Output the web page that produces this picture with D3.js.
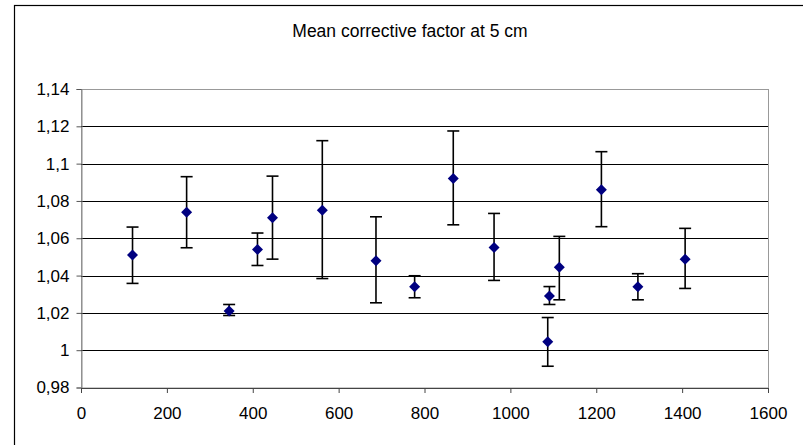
<!DOCTYPE html>
<html>
<head>
<meta charset="utf-8">
<script src="https://cdn.jsdelivr.net/npm/d3@7"></script>
<style>
  body { margin: 0; background: #fff; }
  svg { display: block; font-family: 'Liberation Sans', Arial, sans-serif; }
</style>
</head>
<body>
<div id="chart"></div>
<script>
const title = 'Mean corrective factor at 5 cm'
const xTicks = [0, 200, 400, 600, 800, 1000, 1200, 1400, 1600]
const yTicks = [0.98, 1, 1.02, 1.04, 1.06, 1.08, 1.1, 1.12, 1.14]

const xValues = [120, 246, 345, 411, 446, 562, 687, 777, 867, 962, 1091, 1087, 1114, 1212, 1297, 1407]
const yValues = [1.051, 1.074, 1.021, 1.054, 1.071, 1.075, 1.048, 1.034, 1.092, 1.055, 1.029, 1.0045, 1.0445, 1.086, 1.034, 1.0488]
const yHigh = [1.066, 1.093, 1.0245, 1.0628, 1.0933, 1.1123, 1.0715, 1.0399, 1.1175, 1.0733, 1.0341, 1.0175, 1.061, 1.1064, 1.041, 1.0653]
const yLow = [1.0358, 1.0549, 1.0186, 1.0454, 1.0488, 1.0384, 1.0254, 1.0281, 1.0672, 1.0374, 1.0245, 0.9914, 1.027, 1.0662, 1.027, 1.0331]

const width = 803
const height = 445
const margin = { top: 89, right: 35, bottom: 57.5, left: 81 }
const plotW = width - margin.left - margin.right
const plotH = height - margin.top - margin.bottom
const fontSize = 17

const data = xValues.map((x, i) => ({ x, y: yValues[i], hi: yHigh[i], lo: yLow[i] }))

const x = d3.scaleLinear().domain([0, 1600]).range([0, plotW])
const y = d3.scaleLinear().domain([0.98, 1.14]).range([plotH, 0])
const fmt = d => String(+d.toFixed(2)).replace('.', ',')

const svg = d3.select('#chart').append('svg')
  .attr('width', width)
  .attr('height', height)

// outer chart frame (only top and left edges fall inside the picture)
svg.append('rect')
  .attr('x', 14.5).attr('y', 5.5)
  .attr('width', width).attr('height', height)
  .attr('fill', 'none').attr('stroke', '#000').attr('stroke-width', 1.2)

svg.append('text')
  .attr('x', 410).attr('y', 37)
  .attr('text-anchor', 'middle')
  .attr('font-size', 17.5)
  .text(title)

const g = svg.append('g')
  .attr('transform', 'translate(' + margin.left + ',' + margin.top + ')')

// plot area border
g.append('rect')
  .attr('x', 0.5).attr('y', 0.5)
  .attr('width', plotW).attr('height', plotH)
  .attr('fill', 'none').attr('stroke', '#999')

// gridlines
g.append('g').attr('class', 'grid')
  .selectAll('line')
  .data(yTicks.filter(d => d > 0.985 && d < 1.135))
  .enter().append('line')
  .attr('x1', 0).attr('x2', plotW)
  .attr('y1', d => Math.round(y(d)) + 0.5)
  .attr('y2', d => Math.round(y(d)) + 0.5)
  .attr('stroke', '#000')

const axisY = d3.axisLeft(y).tickValues(yTicks).tickSize(5).tickPadding(7).tickFormat(fmt)
const gy = g.append('g').attr('transform', 'translate(0.5,0)').call(axisY)
gy.select('.domain').attr('stroke', '#888')
gy.selectAll('.tick line').attr('stroke', '#555')
gy.selectAll('text').attr('font-size', fontSize).attr('fill', '#000').attr('font-family', 'Liberation Sans, Arial, sans-serif')

const axisX = d3.axisBottom(x).tickValues(xTicks).tickSize(5).tickPadding(14).tickFormat(d3.format('d'))
const gx = g.append('g').attr('transform', 'translate(0,' + (plotH + 0.5) + ')').call(axisX)
gx.select('.domain').attr('stroke', '#444')
gx.selectAll('.tick line').attr('stroke', '#444')
gx.selectAll('text').attr('font-size', fontSize).attr('fill', '#000').attr('font-family', 'Liberation Sans, Arial, sans-serif')

// error bars
const bars = g.append('g').attr('class', 'errors')
  .selectAll('g')
  .data(data)
  .enter().append('g')
  .attr('stroke', '#000')
  .attr('stroke-width', 1.6)

bars.append('line')
  .attr('x1', d => x(d.x)).attr('x2', d => x(d.x))
  .attr('y1', d => y(d.hi)).attr('y2', d => y(d.lo))

bars.append('line')
  .attr('x1', d => x(d.x) - 6).attr('x2', d => x(d.x) + 6)
  .attr('y1', d => y(d.hi)).attr('y2', d => y(d.hi))

bars.append('line')
  .attr('x1', d => x(d.x) - 6).attr('x2', d => x(d.x) + 6)
  .attr('y1', d => y(d.lo)).attr('y2', d => y(d.lo))

// diamond markers
g.append('g').attr('class', 'points')
  .selectAll('path')
  .data(data)
  .enter().append('path')
  .attr('d', 'M0,-5.5L5.5,0L0,5.5L-5.5,0Z')
  .attr('transform', d => 'translate(' + x(d.x) + ',' + y(d.y) + ')')
  .attr('fill', '#000080')
</script>
</body>
</html>
